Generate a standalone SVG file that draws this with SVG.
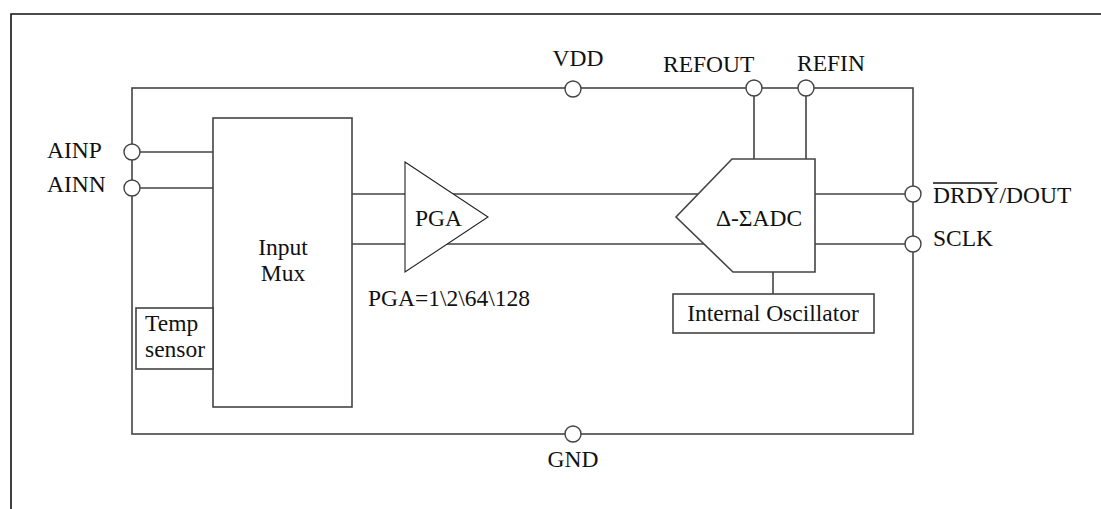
<svg xmlns="http://www.w3.org/2000/svg" width="1101" height="509" viewBox="0 0 1101 509">
<style>
.w{fill:none;stroke:#444;stroke-width:1.6}
.b{fill:#fff;stroke:#444;stroke-width:1.6}
.t{fill:#fff;stroke:#222;stroke-width:1.1}
.p{fill:#fff;stroke:#444;stroke-width:1.4}
text{font-family:"Liberation Serif","Times New Roman",serif;font-size:23.5px;fill:#111}
.m{text-anchor:middle}
</style>
<rect width="1101" height="509" fill="#fff"/>
<path d="M11,509 V14 H1101" fill="none" stroke="#111" stroke-width="1.6"/>
<g id="connectors">
<rect class="w" x="132" y="88" width="781" height="346"/>
<path class="w" d="M132,152 H213 M132,188 H213"/>
<path class="w" d="M352,194 H405 M352,244 H405"/>
<path class="w" d="M453,194 H698 M447,244 H704"/>
<path class="w" d="M754,88 V159 M806,88 V159"/>
<path class="w" d="M815,194 H913 M815,244 H913"/>
<path class="w" d="M773,272 V294"/>
</g>
<g id="pin-vdd"><circle class="p" cx="573" cy="89" r="8"/><text class="m" x="578" y="66">VDD</text></g>
<g id="pin-refout"><circle class="p" cx="754" cy="88" r="8"/><text x="663" y="72">REFOUT</text></g>
<g id="pin-refin"><circle class="p" cx="806" cy="88" r="8"/><text x="797" y="71">REFIN</text></g>
<g id="pin-ainp"><circle class="p" cx="132" cy="152" r="8"/><text x="47" y="158">AINP</text></g>
<g id="pin-ainn"><circle class="p" cx="132" cy="188" r="8"/><text x="47" y="192">AINN</text></g>
<g id="pin-drdy"><circle class="p" cx="913" cy="194" r="8"/><text x="933" y="203">DRDY/DOUT</text><path d="M933,183 H997" stroke="#111" stroke-width="1.4"/></g>
<g id="pin-sclk"><circle class="p" cx="913" cy="244" r="8"/><text x="933" y="246">SCLK</text></g>
<g id="pin-gnd"><circle class="p" cx="573" cy="434" r="8"/><text class="m" x="573" y="467">GND</text></g>
<g id="mux"><rect class="b" x="213" y="118" width="139" height="289"/><text class="m" x="283" y="255">Input</text><text class="m" x="283" y="281">Mux</text></g>
<g id="temp"><rect class="b" x="136" y="308" width="77" height="61"/><text x="145" y="331">Temp</text><text x="145" y="357">sensor</text></g>
<g id="pga"><path class="t" d="M405,162 L488,217 L405,272 Z"/><text x="415" y="226">PGA</text><text x="368" y="306">PGA=1\2\64\128</text></g>
<g id="adc"><path class="b" d="M732,159 H815 V272 H733 L676,217 Z"/><text class="m" x="759" y="226">Δ-ΣADC</text></g>
<g id="osc"><rect class="b" x="673" y="294" width="201" height="39"/><text class="m" x="773" y="321">Internal Oscillator</text></g>
</svg>
